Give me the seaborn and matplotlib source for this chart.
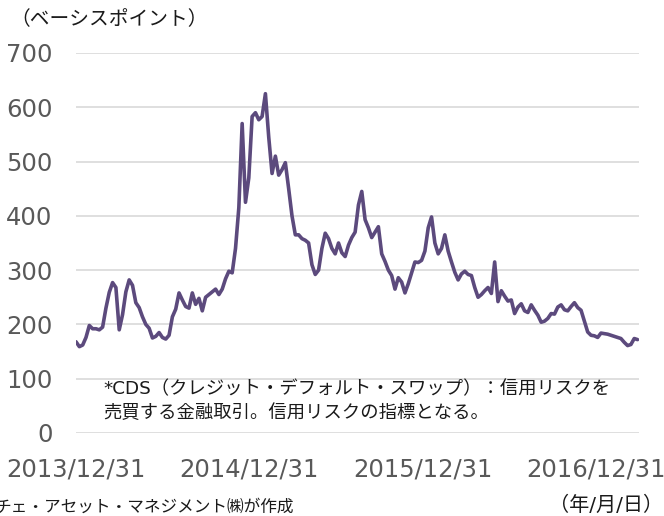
"""
CDS spread chart (basis points), 2013/12/31 - 2017/03.
Run: python3 plot.py  -> out.png
"""
import matplotlib
matplotlib.use("Agg")
import matplotlib.dates as mdates
import matplotlib.pyplot as plt
import numpy as np
import pandas as pd
import seaborn as sns

LINE = "#5C4A7D"
GRID = "#D9D9D9"
TICK = "#595959"
JP = ["DejaVu Sans", "Noto Sans CJK JP"]

# weekly readings of the spread (bp), starting 2013/12/31
start_date = "2013-12-31"
cds_bp = [
    168, 159, 162, 176, 198, 192, 192, 190, 195, 230,
    259, 277, 268, 190, 218, 260, 282, 272, 240, 231,
    214, 200, 193, 175, 178, 185, 176, 173, 180, 214,
    228, 258, 245, 233, 230, 258, 237, 248, 225, 250,
    255, 260, 265, 255, 265, 284, 298, 295, 340, 415,
    570, 425, 470, 583, 590, 577, 583, 625, 545, 478,
    510, 475, 485, 498, 450, 400, 365, 365, 358, 355,
    350, 310, 292, 300, 340, 368, 358, 340, 330, 350,
    332, 325, 346, 360, 370, 420, 445, 393, 378, 360,
    370, 380, 330, 316, 300, 290, 265, 286, 278, 258,
    275, 295, 315, 314, 318, 335, 378, 398, 350, 330,
    340, 365, 335, 315, 296, 282, 293, 298, 292, 290,
    268, 250, 255, 262, 268, 257, 315, 242, 262, 252,
    243, 245, 220, 232, 238, 225, 222, 236, 226, 217,
    204, 206, 211, 220, 219, 232, 236, 227, 225, 233,
    240, 231, 226, 206, 186, 180, 179, 176, 184, 183,
    182, 180, 178, 176, 174, 167, 161, 163, 174, 172,
]
y_ticks = [0, 100, 200, 300, 400, 500, 600, 700]
x_ticks = ["2013-12-31", "2014-12-31", "2015-12-31", "2016-12-31"]
x_end = "2017-03-31"

y_label = "（ベーシスポイント）"
note_lines = [
    "*CDS（クレジット・デフォルト・スワップ）：信用リスクを",
    "売買する金融取引。信用リスクの指標となる。",
]
source = "チェ・アセット・マネジメント㈱が作成"
x_unit = "（年/月/日）"


def main() -> None:
    sns.set_theme(style="white")
    plt.rcParams["font.family"] = ["DejaVu Sans"]

    df = pd.DataFrame({
        "date": pd.date_range(start_date, periods=len(cds_bp), freq="7D"),
        "bp": cds_bp,
    })

    fig = plt.figure(figsize=(6.64, 5.16), dpi=100)
    ax = fig.add_axes([0.1145, 0.1609, 0.8478, 0.7364])

    sns.lineplot(data=df, x="date", y="bp", ax=ax, color=LINE, linewidth=2.6)

    ax.set_ylim(0, 700)
    ax.set_xlim(pd.Timestamp(start_date), pd.Timestamp(x_end))
    ax.set_yticks(y_ticks)
    ax.set_xticks(pd.to_datetime(x_ticks))
    ax.xaxis.set_major_formatter(mdates.DateFormatter("%Y/%m/%d"))
    ax.tick_params(axis="both", length=0, labelsize=17.5, labelcolor=TICK)
    ax.tick_params(axis="y", pad=17)
    ax.tick_params(axis="x", pad=18)
    ax.grid(axis="y", color=GRID, linewidth=1.2)
    ax.set_axisbelow(True)
    for s in ax.spines.values():
        s.set_visible(False)
    ax.set_xlabel("")
    ax.set_ylabel("")

    ax.text(0.048, 81 / 700, note_lines[0], transform=ax.transAxes,
            ha="left", va="center", fontsize=13.2, family=JP, color="#1a1a1a")
    ax.text(0.048, 37 / 700, note_lines[1], transform=ax.transAxes,
            ha="left", va="center", fontsize=13.2, family=JP, color="#1a1a1a")

    fig.text(0.016, 1 - 20 / 516, y_label, ha="left", va="center",
             fontsize=14.2, family=JP, color="#1a1a1a")
    fig.text(-0.008, 0.0, source, ha="left", va="bottom",
             fontsize=12, family=JP, color="#1a1a1a")
    fig.text(0.999, 0.002, x_unit, ha="right", va="bottom",
             fontsize=14.5, family=JP, color="#1a1a1a")

    fig.savefig("out.png", dpi=100)
    plt.close(fig)


if __name__ == "__main__":
    main()
